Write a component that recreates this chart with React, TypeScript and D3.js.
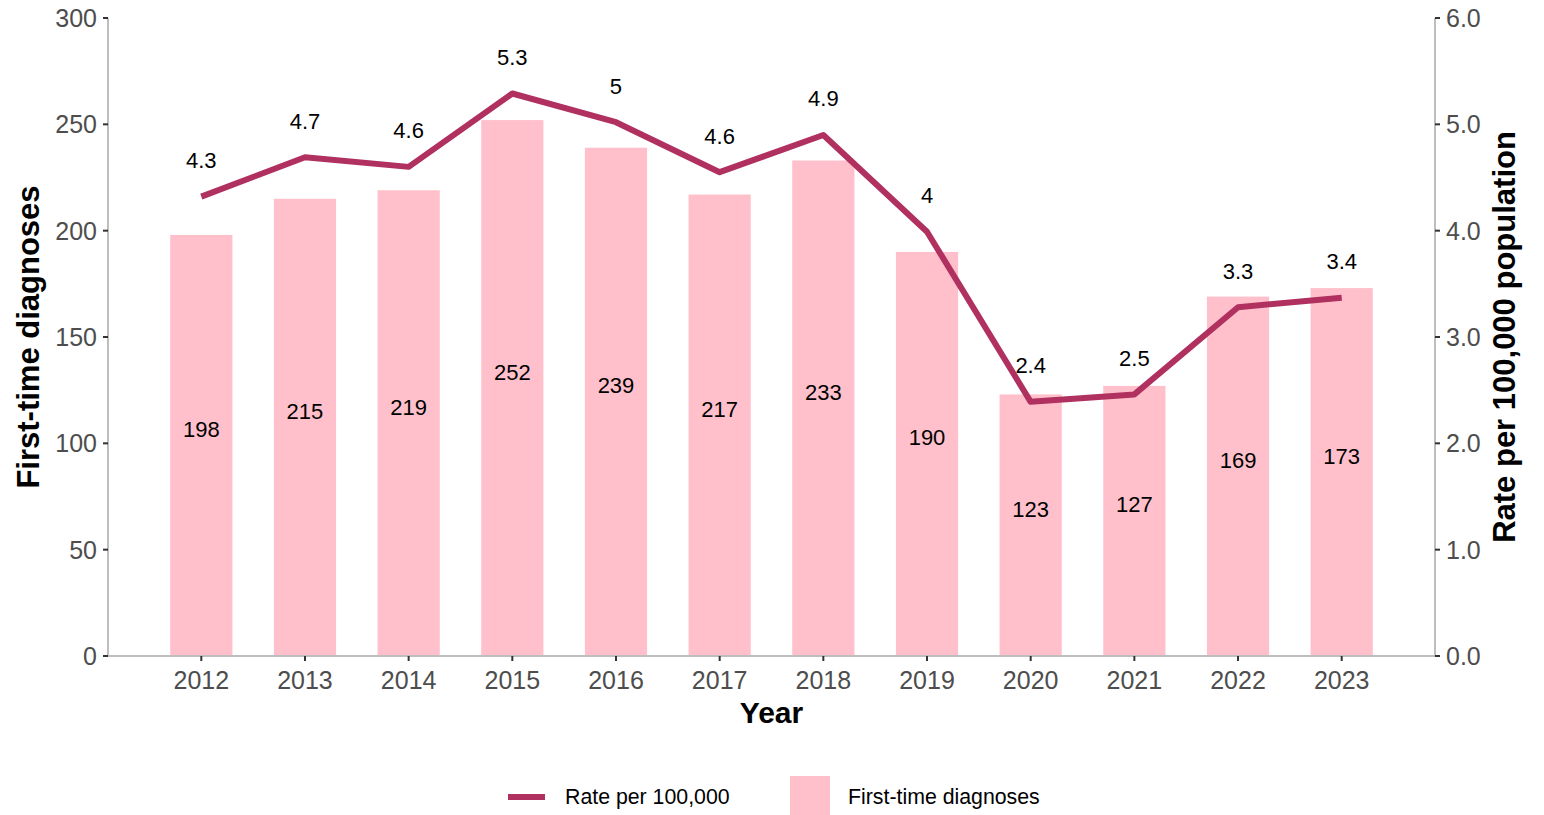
import React from "react";
import * as d3 from "d3";

// Données
const years = ["2012", "2013", "2014", "2015", "2016", "2017", "2018", "2019", "2020", "2021", "2022", "2023"];
const diagnoses = [198, 215, 219, 252, 239, 217, 233, 190, 123, 127, 169, 173];
const rates = [4.32, 4.69, 4.6, 5.29, 5.02, 4.55, 4.9, 3.99, 2.39, 2.46, 3.28, 3.37];
const leftTicks = [0, 50, 100, 150, 200, 250, 300];
const rightTicks = [0, 1, 2, 3, 4, 5, 6];

const width = 1544;
const height = 815;
const margin = { top: 18, right: 109, bottom: 159, left: 108 };

const LINE_COLOR = "#B03060";
const BAR_COLOR = "#FFC0CB";
const FONT = "Liberation Sans, Arial, sans-serif";

export default function App() {
  const x = d3
    .scalePoint<string>()
    .domain(years)
    .range([margin.left, width - margin.right])
    .padding(0.9);
  const step = x.step();
  const barW = step * 0.6;

  const yLeft = d3.scaleLinear().domain([0, 300]).range([height - margin.bottom, margin.top]);
  const yRight = d3.scaleLinear().domain([0, 6]).range([height - margin.bottom, margin.top]);

  const x0 = margin.left;
  const x1 = width - margin.right;
  const yBase = height - margin.bottom;

  // Ligne du taux
  const line = d3
    .line<number>()
    .x((_, i) => x(years[i])!)
    .y((d) => yRight(d));

  const fmtRate = (v: number) => String(Math.round(v * 10) / 10);

  return (
    <svg
      width={width}
      height={height}
      style={{ position: "absolute", left: 0, top: 0, background: "#fff" }}
      fontFamily={FONT}
    >
      {/* Barres */}
      {diagnoses.map((d, i) => (
        <rect
          key={"b" + i}
          x={x(years[i])! - barW / 2}
          y={yLeft(d)}
          width={barW}
          height={yBase - yLeft(d)}
          fill={BAR_COLOR}
        />
      ))}
      {/* Etiquettes des barres */}
      {diagnoses.map((d, i) => (
        <text
          key={"bl" + i}
          x={x(years[i])!}
          y={yLeft(d / 2) - 16}
          textAnchor="middle"
          dominantBaseline="central"
          fontSize={22}
          fill="#000"
        >
          {d}
        </text>
      ))}

      {/* Axes */}
      <line x1={x0} x2={x0} y1={margin.top} y2={yBase} stroke="#BEBEBE" strokeWidth={2} />
      <line x1={x1} x2={x1} y1={margin.top} y2={yBase} stroke="#BEBEBE" strokeWidth={2} />
      <line x1={x0} x2={x1} y1={yBase} y2={yBase} stroke="#BEBEBE" strokeWidth={2} />

      {leftTicks.map((t) => (
        <g key={"lt" + t}>
          <line x1={x0 - 5} x2={x0} y1={yLeft(t)} y2={yLeft(t)} stroke="#333" strokeWidth={2} />
          <text
            x={x0 - 11}
            y={yLeft(t)}
            textAnchor="end"
            dominantBaseline="central"
            fontSize={25}
            fill="#4D4D4D"
          >
            {t}
          </text>
        </g>
      ))}
      {rightTicks.map((t) => (
        <g key={"rt" + t}>
          <line x1={x1} x2={x1 + 5} y1={yRight(t)} y2={yRight(t)} stroke="#333" strokeWidth={2} />
          <text
            x={x1 + 11}
            y={yRight(t)}
            textAnchor="start"
            dominantBaseline="central"
            fontSize={25}
            fill="#4D4D4D"
          >
            {t.toFixed(1)}
          </text>
        </g>
      ))}
      {years.map((yr) => (
        <g key={"xt" + yr}>
          <line x1={x(yr)!} x2={x(yr)!} y1={yBase} y2={yBase + 5} stroke="#333" strokeWidth={2} />
          <text x={x(yr)!} y={yBase + 33} textAnchor="middle" fontSize={25} fill="#4D4D4D">
            {yr}
          </text>
        </g>
      ))}

      {/* Ligne */}
      <path
        d={line(rates) || ""}
        fill="none"
        stroke={LINE_COLOR}
        strokeWidth={6}
        strokeLinejoin="round"
      />
      {rates.map((r, i) => (
        <text
          key={"rl" + i}
          x={x(years[i])!}
          y={yRight(r) - 36}
          textAnchor="middle"
          dominantBaseline="central"
          fontSize={22}
          fill="#000"
        >
          {fmtRate(r)}
        </text>
      ))}

      {/* Titres des axes */}
      <text x={(x0 + x1) / 2} y={723} textAnchor="middle" fontSize={30} fontWeight="bold" fill="#000">
        Year
      </text>
      <text
        transform={`translate(39,${(margin.top + yBase) / 2}) rotate(-90)`}
        textAnchor="middle"
        fontSize={31}
        fontWeight="bold"
        fill="#000"
      >
        First-time diagnoses
      </text>
      <text
        transform={`translate(1515,${(margin.top + yBase) / 2}) rotate(-90)`}
        textAnchor="middle"
        fontSize={31}
        fontWeight="bold"
        fill="#000"
      >
        Rate per 100,000 population
      </text>

      {/* Légende */}
      <line x1={508} x2={545} y1={797} y2={797} stroke={LINE_COLOR} strokeWidth={6} />
      <text x={565} y={797} dominantBaseline="central" fontSize={21.3} fill="#000">
        Rate per 100,000
      </text>
      <rect x={790} y={776} width={40} height={42} fill={BAR_COLOR} />
      <text x={848} y={797} dominantBaseline="central" fontSize={21.3} fill="#000">
        First-time diagnoses
      </text>
    </svg>
  );
}
